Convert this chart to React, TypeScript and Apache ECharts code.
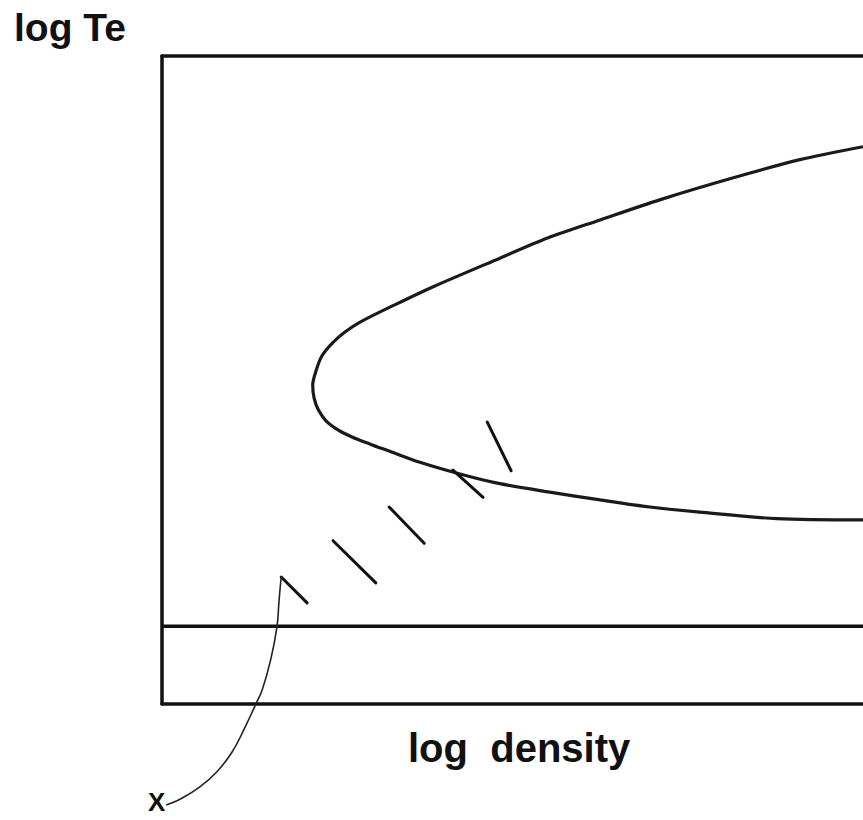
import React, { useEffect, useRef } from "react";
import * as echarts from "echarts";

// Axis names
const xName = "log  density";
const yName = "log Te";
const markName = "X";

// Main curve (log density, log Te), from the upper-right branch through the nose to the lower branch
const curveX = [100, 91.0, 81.5, 71.0, 62.5, 55.0, 48.2, 38.7, 33.2, 28.2, 26.1, 24.3, 22.8, 22.0, 21.5, 21.7, 22.3, 23.4, 25.1, 27.1, 29.7, 32.5, 36.8, 42.5, 48.2, 55.3, 62.5, 69.6, 76.7, 87.7, 100];
const curveY = [86.0, 84.0, 81.2, 77.8, 74.7, 71.9, 68.8, 64.4, 61.6, 58.9, 57.4, 55.7, 53.7, 51.5, 49.2, 47.2, 45.4, 43.7, 42.3, 41.2, 40.1, 39.0, 37.3, 35.5, 34.0, 32.7, 31.5, 30.4, 29.6, 28.6, 28.4];

// Short hand-drawn strokes: [x1, y1, x2, y2]
const strokes = [
  [46.4, 43.5, 49.8, 36.0],
  [41.5, 36.1, 45.8, 31.9],
  [32.4, 30.4, 37.4, 24.8],
  [24.4, 25.2, 30.5, 18.7],
  [17.0, 19.6, 20.7, 15.6],
];

// Arrow line from the "X" mark to the stroke sequence
const arrowX = [17.0, 16.7, 16.4, 15.5, 14.3, 13.3, 11.8, 10.0, 7.8, 5.4, 2.9, 0.6];
const arrowY = [19.6, 16.0, 11.9, 6.8, 2.2, -0.2, -3.7, -7.4, -10.5, -12.8, -14.5, -15.6];

// Horizontal limit line
const limitY = 12;

export default function App() {
  const ref = useRef<HTMLDivElement>(null);
  useEffect(() => {
    if (!ref.current) return;
    const chart = echarts.init(ref.current, null, { renderer: "svg" });
    const ink = "#111";
    const series: any[] = [
      {
        type: "line",
        data: curveX.map((x, i) => [x, curveY[i]]),
        smooth: 0.3,
        showSymbol: false,
        lineStyle: { color: "#1a1a1a", width: 3.2 },
        silent: true,
      },
      {
        type: "line",
        data: [[0, limitY], [100, limitY]],
        showSymbol: false,
        lineStyle: { color: ink, width: 3.5 },
        silent: true,
      },
      ...strokes.map((s) => ({
        type: "line",
        data: [[s[0], s[1]], [s[2], s[3]]],
        showSymbol: false,
        lineStyle: { color: ink, width: 3, cap: "round" },
        silent: true,
      })),
      {
        type: "line",
        data: arrowX.map((x, i) => [x, arrowY[i]]),
        smooth: 0.4,
        clip: false,
        showSymbol: false,
        lineStyle: { color: "#222", width: 1.6 },
        silent: true,
      },
    ];
    const axisStyle = { show: true, lineStyle: { color: ink, width: 3.5 } };
    chart.setOption({
      animation: false,
      backgroundColor: "#fff",
      grid: { left: 162, top: 56, right: 0, bottom: 116 },
      xAxis: [
        {
          type: "value", min: 0, max: 100, position: "bottom",
          axisLine: axisStyle,
          axisTick: { show: false }, axisLabel: { show: false }, splitLine: { show: false },
        },
        {
          type: "value", min: 0, max: 100, position: "top",
          axisLine: axisStyle,
          axisTick: { show: false }, axisLabel: { show: false }, splitLine: { show: false },
        },
      ],
      yAxis: {
        type: "value", min: 0, max: 100,
        axisLine: axisStyle,
        axisTick: { show: false }, axisLabel: { show: false }, splitLine: { show: false },
      },
      series,
      graphic: [
        {
          type: "text", left: 14, top: 8,
          style: { text: yName, font: "bold 39px 'Liberation Sans', Arial, sans-serif", fill: ink },
        },
        {
          type: "text", left: 408, top: 728,
          style: { text: xName, font: "bold 40px 'Liberation Sans', Arial, sans-serif", fill: ink },
        },
        {
          type: "text", left: 148, top: 789,
          style: { text: markName, font: "bold 26px 'Liberation Sans', Arial, sans-serif", fill: ink },
        },
      ],
    });
    return () => chart.dispose();
  }, []);
  return (
    <div
      ref={ref}
      style={{ position: "absolute", left: 0, top: 0, width: 863, height: 820, background: "#fff" }}
    />
  );
}
